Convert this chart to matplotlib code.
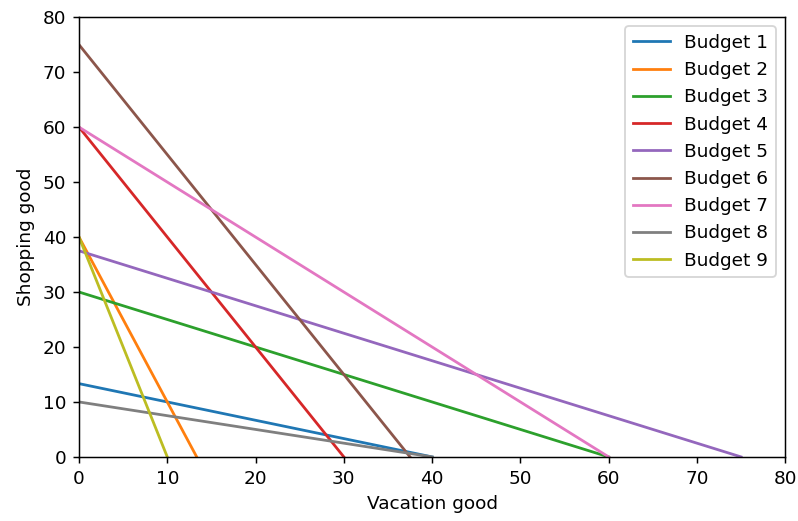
import matplotlib
matplotlib.use("Agg")
import matplotlib.pyplot as plt

# intercepts: (shopping at x=0, vacation at y=0)
labels = ["Budget %d" % i for i in range(1, 10)]
shopping_max = [13.333, 40, 30, 60, 37.5, 75, 60, 10, 40]
vacation_max = [40, 13.333, 60, 30, 75, 37.5, 60, 40, 10]

DPI = 133
fig = plt.figure(figsize=(798 / DPI, 521 / DPI), dpi=DPI)
ax = fig.add_axes([0.099, 0.123, 0.885, 0.844])

for lab, s, v in zip(labels, shopping_max, vacation_max):
    ax.plot([0, v], [s, 0], label=lab)

ax.set_xlim(0, 80)
ax.set_ylim(0, 80)
ax.set_xlabel("Vacation good")
ax.set_ylabel("Shopping good")
ax.legend(loc="upper right")

fig.savefig("out.png", dpi=DPI)
